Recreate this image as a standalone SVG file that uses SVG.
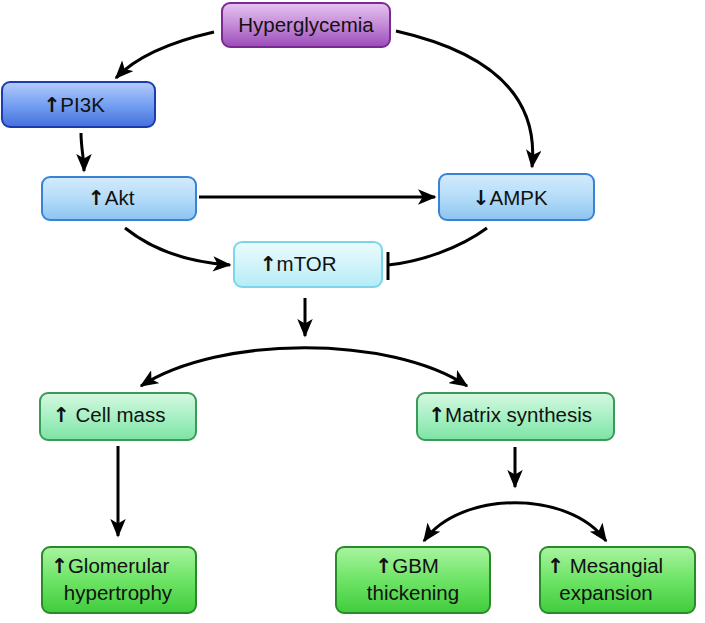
<svg xmlns="http://www.w3.org/2000/svg" width="705" height="623" viewBox="0 0 705 623">
<defs>
<linearGradient id="gPurple" x1="0" y1="0" x2="0" y2="1"><stop offset="0" stop-color="#e6c4f0"/><stop offset="0.5" stop-color="#c58ad8"/><stop offset="1" stop-color="#9a4cb8"/></linearGradient>
<linearGradient id="gBlue" x1="0" y1="0" x2="0" y2="1"><stop offset="0" stop-color="#b4ccfa"/><stop offset="0.5" stop-color="#76a0f2"/><stop offset="1" stop-color="#4470dc"/></linearGradient>
<linearGradient id="gLBlue" x1="0" y1="0" x2="0" y2="1"><stop offset="0" stop-color="#d4ebfc"/><stop offset="0.5" stop-color="#b4dcf8"/><stop offset="1" stop-color="#8cc4f0"/></linearGradient>
<linearGradient id="gCyan" x1="0" y1="0" x2="0" y2="1"><stop offset="0" stop-color="#eafbfd"/><stop offset="0.5" stop-color="#d2f4fa"/><stop offset="1" stop-color="#b4ecf6"/></linearGradient>
<linearGradient id="gLGreen" x1="0" y1="0" x2="0" y2="1"><stop offset="0" stop-color="#d4f8e0"/><stop offset="0.5" stop-color="#a8f0c4"/><stop offset="1" stop-color="#7ce4a4"/></linearGradient>
<linearGradient id="gGreen" x1="0" y1="0" x2="0" y2="1"><stop offset="0" stop-color="#a8f4a0"/><stop offset="0.5" stop-color="#6ee466"/><stop offset="1" stop-color="#40cc3c"/></linearGradient>
<marker id="arr" viewBox="0 0 12 10" refX="11" refY="5" markerWidth="6.2" markerHeight="5.2" orient="auto-start-reverse" markerUnits="strokeWidth"><path d="M0,0 L12,5 L0,10 L3,5 Z" fill="#000"/></marker>
</defs>
<style>
.box{stroke-width:2}
.t{font-family:"Liberation Sans",Arial,sans-serif;font-size:20.5px;fill:#111;text-anchor:middle}
.ar{font-family:"DejaVu Sans",sans-serif;font-weight:bold}
.c{fill:none;stroke:#000;stroke-width:3}
.a{marker-end:url(#arr)}
.b{marker-start:url(#arr);marker-end:url(#arr)}
</style>
<rect width="705" height="623" fill="#fff"/>
<g id="connectors">
<path class="c a" d="M214,32 C170,42 135,58 116,78"/>
<path class="c a" d="M396,31 C480,50 540,90 532,167"/>
<path class="c a" d="M81,133 C81,148 84,158 84,171"/>
<path class="c a" d="M199,197 L435,197"/>
<path class="c a" d="M125,228 C150,248 185,262 230,265"/>
<path class="c" d="M487,228 C460,248 420,262 388,265"/>
<path class="c" d="M388,252 L388,280"/>
<path class="c a" d="M305,298 L305,336"/>
<path class="c b" d="M141,386 C220,335 390,335 467,386"/>
<path class="c a" d="M118,446 L118,536"/>
<path class="c a" d="M515,447 L515,487"/>
<path class="c b" d="M424,541 C460,490 570,490 606,541"/>
</g>
<g id="hyperglycemia">
<rect class="box" x="222" y="3" width="168" height="44" rx="8" fill="url(#gPurple)" stroke="#7a2a92"/>
<text class="t" x="306" y="32" font-size="21">Hyperglycemia</text>
</g>
<g id="pi3k">
<rect class="box" x="2" y="82" width="153" height="45" rx="8" fill="url(#gBlue)" stroke="#1a3cb0"/>
<text class="t" x="74" y="112"><tspan class="ar">↑</tspan>PI3K</text>
</g>
<g id="akt">
<rect class="box" x="42" y="177" width="154" height="43" rx="8" fill="url(#gLBlue)" stroke="#3a82d4"/>
<text class="t" x="111" y="205"><tspan class="ar">↑</tspan>Akt</text>
</g>
<g id="ampk">
<rect class="box" x="439" y="174" width="155" height="46" rx="8" fill="url(#gLBlue)" stroke="#3a82d4"/>
<text class="t" x="510" y="205"><tspan class="ar">↓</tspan>AMPK</text>
</g>
<g id="mtor">
<rect class="box" x="234" y="242" width="148" height="45" rx="8" fill="url(#gCyan)" stroke="#7ad6e8"/>
<text class="t" x="298" y="271"><tspan class="ar">↑</tspan>mTOR</text>
</g>
<g id="cellmass">
<rect class="box" x="40" y="393" width="156" height="47" rx="8" fill="url(#gLGreen)" stroke="#3a9a58"/>
<text class="t" x="109" y="422"><tspan class="ar">↑</tspan> Cell mass</text>
</g>
<g id="matrix">
<rect class="box" x="417" y="393" width="197" height="47" rx="8" fill="url(#gLGreen)" stroke="#3a9a58"/>
<text class="t" x="510" y="422"><tspan class="ar">↑</tspan>Matrix synthesis</text>
</g>
<g id="glomerular">
<rect class="box" x="42" y="547" width="154" height="66" rx="8" fill="url(#gGreen)" stroke="#2a8a2a"/>
<text class="t" x="110" y="573"><tspan class="ar">↑</tspan>Glomerular</text>
<text class="t" x="118" y="600">hypertrophy</text>
</g>
<g id="gbm">
<rect class="box" x="336" y="547" width="154" height="66" rx="8" fill="url(#gGreen)" stroke="#2a8a2a"/>
<text class="t" x="407" y="573"><tspan class="ar">↑</tspan>GBM</text>
<text class="t" x="413" y="600">thickening</text>
</g>
<g id="mesangial">
<rect class="box" x="540" y="547" width="155" height="66" rx="8" fill="url(#gGreen)" stroke="#2a8a2a"/>
<text class="t" x="605" y="573"><tspan class="ar">↑</tspan> Mesangial</text>
<text class="t" x="606" y="600">expansion</text>
</g>
</svg>
